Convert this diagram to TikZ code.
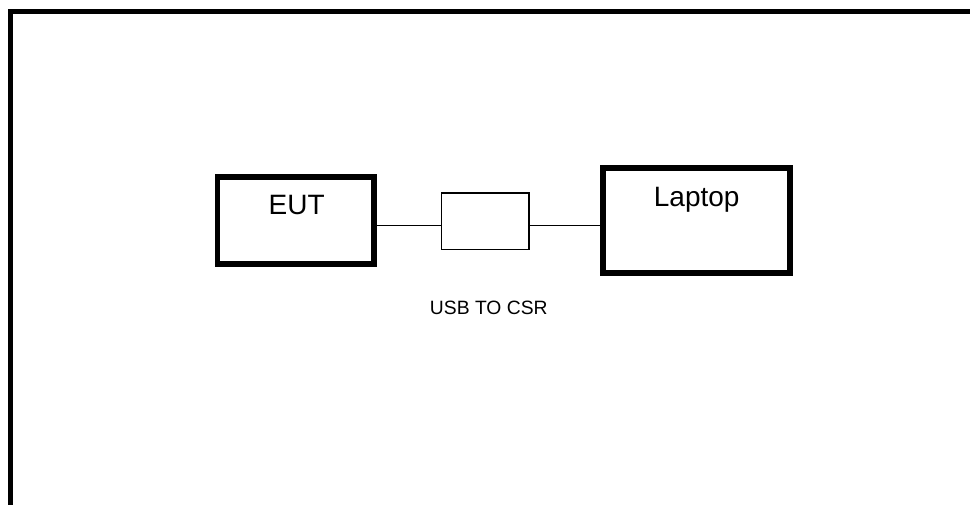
\documentclass[tikz,border=0pt]{standalone}
\usepackage{fontspec}
\setmainfont{Liberation Sans}
\begin{document}
\begin{tikzpicture}[x=1pt,y=-1pt,
  thickbox/.style={draw, line width=5.5pt, rectangle, inner sep=0pt, minimum width=#1},
  thinbox/.style={draw, line width=1.4pt, rectangle, inner sep=0pt},
  wire/.style={line width=1.4pt},
  bigtext/.style={anchor=base, inner sep=0pt, font=\fontsize{28}{32}\selectfont},
  smalltext/.style={anchor=base, inner sep=0pt, font=\fontsize{19.3}{22}\selectfont}]
\useasboundingbox (0,0) rectangle (970,504);
% frame (only top and left edges visible)
\draw[line width=5pt] (10,520) -- (10,11) -- (990,11);
% boxes
\node[thickbox=156.5pt, minimum height=87pt] (eut) at (295.75,220.5) {};
\node[thinbox, minimum width=87.5pt, minimum height=56.5pt] (usb) at (485.25,221.25) {};
\node[thickbox=187pt, minimum height=105pt] (laptop) at (696.5,220.5) {};
% texts
\node[bigtext] (euttext) at (296.7,214.5) {EUT};
\node[bigtext] (laptoptext) at (696.7,206) {Laptop};
\node[smalltext] (usbtext) at (488.8,314) {USB TO CSR};
% connectors
\draw[wire] ([yshift=-4.45pt]usb.west -| eut.east) -- ([yshift=-4.45pt]usb.west);
\draw[wire] ([yshift=-4.45pt]usb.east) -- ([yshift=-4.45pt]usb.east -| laptop.west);
\end{tikzpicture}
\end{document}
